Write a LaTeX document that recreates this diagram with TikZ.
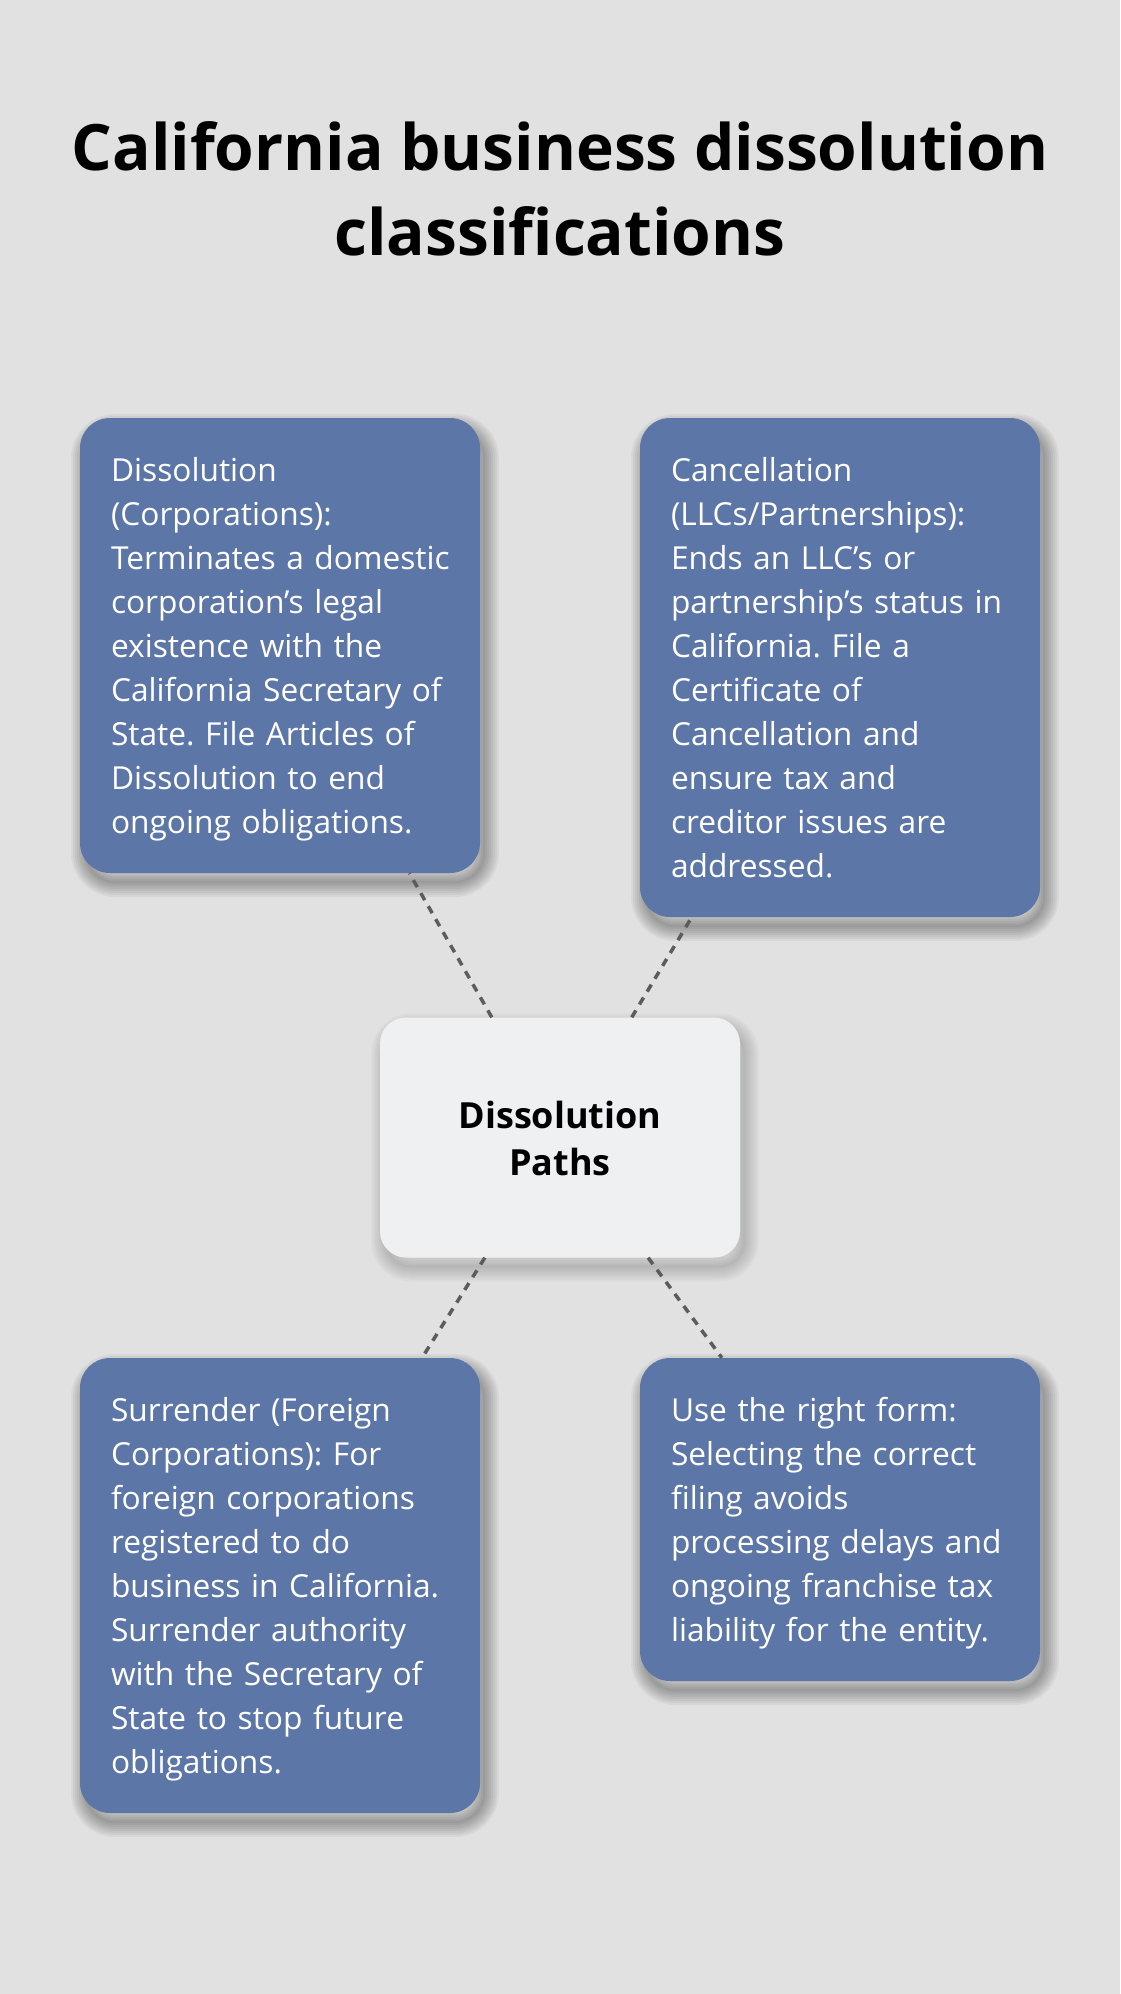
\documentclass[tikz,border=0pt]{standalone}
\usepackage{fontspec}
\setmainfont{Open Sans}
\definecolor{bgcol}{HTML}{E0E1E0}
\definecolor{boxblue}{HTML}{5D76A8}
\definecolor{centerfill}{HTML}{EFF0F2}
\definecolor{dashgray}{HTML}{5C5C5C}
\newcommand{\bodystrut}{\rule[-9.7pt]{0pt}{44pt}}
\newcommand{\ctrstrut}{\rule[-9.5pt]{0pt}{47pt}}
\newcommand{\titlestrut}{\rule[-25pt]{0pt}{85pt}}
\newcommand{\Ln}[1]{\mbox{#1}}
\frenchspacing
\tikzset{
  shdw/.style={preaction={draw=black, draw opacity=#1, line width=##1pt,
    transform canvas={shift={(5pt,-10pt)}}}},
  softshadow/.style={
    preaction={fill=black, fill opacity=#1, transform canvas={shift={(5pt,-10pt)}}},
    preaction={draw=black, draw opacity=#1, line width=4pt, transform canvas={shift={(5pt,-10pt)}}},
    preaction={draw=black, draw opacity=#1, line width=8pt, transform canvas={shift={(5pt,-10pt)}}},
    preaction={draw=black, draw opacity=#1, line width=12pt, transform canvas={shift={(5pt,-10pt)}}},
    preaction={draw=black, draw opacity=#1, line width=16pt, transform canvas={shift={(5pt,-10pt)}}},
    preaction={draw=black, draw opacity=#1, line width=20pt, transform canvas={shift={(5pt,-10pt)}}},
    preaction={draw=black, draw opacity=#1, line width=24pt, transform canvas={shift={(5pt,-10pt)}}},
    preaction={draw=black, draw opacity=#1, line width=28pt, transform canvas={shift={(5pt,-10pt)}}}},
  infobox/.style={draw=none, fill=boxblue, rounded corners=30pt,
    minimum width=400pt, text width=338pt, inner xsep=31pt, inner ysep=0pt,
    align=left, text=white, font=\frenchspacing\fontsize{31.7pt}{44pt}\selectfont,
    softshadow=0.045},
  hubbox/.style={draw=none, fill=centerfill, rounded corners=26pt,
    minimum width=360pt, minimum height=240pt, inner sep=0pt,
    align=center, text=black, font=\fontsize{36pt}{47pt}\selectfont\bfseries,
    softshadow=0.025},
  titletext/.style={inner sep=0pt, align=center, text=black,
    font=\fontsize{64pt}{85pt}\selectfont\bfseries},
  conn/.style={draw=dashgray, line width=3.5pt, dash pattern=on 8pt off 7pt}
}
\begin{document}
\begin{tikzpicture}[x=1pt,y=-1pt]
\fill[bgcol] (0,0) rectangle (1120,1994);
\useasboundingbox (0,0) rectangle (1120,1994);

\node[titletext] (title) at (560,195) {\titlestrut California business dissolution\\classifications\titlestrut};

\node[infobox, minimum height=455pt] (tl) at (280,645.5) {%
\Ln{\bodystrut Dissolution}\\
\Ln{(Corporations):}\\
\Ln{Terminates a domestic}\\
\Ln{corporation’s legal}\\
\Ln{existence with the}\\
\Ln{California Secretary of}\\
\Ln{State. File Articles of}\\
\Ln{Dissolution to end}\\
\Ln{ongoing obligations.\bodystrut}};

\node[infobox, minimum height=499pt] (tr) at (840,667.5) {%
\Ln{\bodystrut Cancellation}\\
\Ln{(LLCs/Partnerships):}\\
\Ln{Ends an LLC’s or}\\
\Ln{partnership’s status in}\\
\Ln{California. File a}\\
\Ln{Certificate of}\\
\Ln{Cancellation and}\\
\Ln{ensure tax and}\\
\Ln{creditor issues are}\\
\Ln{addressed.\bodystrut}};

\node[hubbox] (hub) at (560,1137.5) {\ctrstrut Dissolution\\Paths\ctrstrut};

\node[infobox, minimum height=455pt] (bl) at (280,1585.5) {%
\Ln{\bodystrut Surrender (Foreign}\\
\Ln{Corporations): For}\\
\Ln{foreign corporations}\\
\Ln{registered to do}\\
\Ln{business in California.}\\
\Ln{Surrender authority}\\
\Ln{with the Secretary of}\\
\Ln{State to stop future}\\
\Ln{obligations.\bodystrut}};

\node[infobox, minimum height=323pt] (br) at (840,1519.5) {%
\Ln{\bodystrut Use the right form:}\\
\Ln{Selecting the correct}\\
\Ln{filing avoids}\\
\Ln{processing delays and}\\
\Ln{ongoing franchise tax}\\
\Ln{liability for the entity.\bodystrut}};

\draw[conn] (hub) -- (tl);
\draw[conn] (hub) -- (tr);
\draw[conn] (hub) -- (bl);
\draw[conn] (hub) -- (br);
\end{tikzpicture}
\end{document}
